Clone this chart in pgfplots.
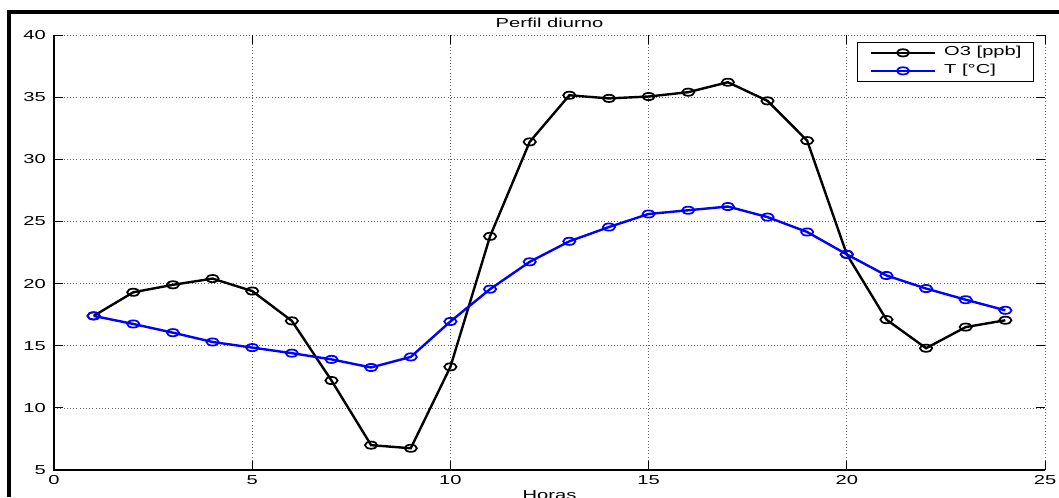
\documentclass[border=0pt]{standalone}
\usepackage{fontspec}
\setmainfont{Liberation Sans}[FakeStretch=1.55]
\usepackage{pgfplots}
\pgfplotsset{compat=1.18}
\newcommand{\chartfont}{\fontsize{9.75pt}{12pt}\selectfont}
\begin{document}
\begin{tikzpicture}
\useasboundingbox (0,0) rectangle (794.25pt,372.75pt);
\clip (0,0) rectangle (794.25pt,372.75pt);
\begin{axis}[
  at={(40.5pt,20.25pt)}, anchor=south west, scale only axis,
  width=743.25pt, height=326.25pt,
  xmin=0, xmax=25, ymin=5, ymax=40,
  xtick={0,5,...,25}, ytick={5,10,...,40},
  font=\chartfont,
  /pgf/number format/assume math mode=true,
  axis line style={draw=none},
  clip=false,
  tick align=inside, major tick length=7pt,
  tick style={black, line width=0.6pt},
  grid=major, grid style={dotted, gray!80!black, line width=0.5pt},
  xticklabel style={inner sep=0pt, yshift=-3.75pt},
  yticklabel style={inner sep=0pt, xshift=-6pt},
  title={Perfil diurno},
  every axis title/.style={at={(0.5,1)}, anchor=base, yshift=6pt, inner sep=0pt, font=\chartfont},
  xlabel={Horas},
  every axis x label/.style={at={(0.5,0)}, anchor=north, yshift=-15pt, inner sep=0pt, font=\chartfont},
  legend style={at={(1,1)}, anchor=north east, xshift=-8.25pt, yshift=-5.25pt,
    draw=black, line width=0.75pt, inner xsep=9pt, inner ysep=3pt,
    row sep=4pt, column sep=6pt,
    nodes={inner sep=0pt, text height=7pt, text depth=2.5pt, font=\chartfont}},
  legend cell align=left,
  legend image code/.code={\draw[mark repeat=2, mark phase=2] plot coordinates {(0pt,0pt) (24pt,0pt) (48pt,0pt)};},
]
\addplot[black, line width=1.8pt, mark=o, mark size=2.7pt,
  mark options={solid, xscale=1.7, line width=1.3pt}] coordinates {
  (1,17.4)(2,19.3)(3,19.9)(4,20.4)(5,19.4)(6,17.0)(7,12.2)(8,7.0)(9,6.75)(10,13.3)
  (11,23.8)(12,31.4)(13,35.15)(14,34.9)(15,35.05)(16,35.4)(17,36.2)(18,34.7)(19,31.5)
  (20,22.35)(21,17.1)(22,14.8)(23,16.5)(24,17.05)};
\addlegendentry{O3 [ppb]}
\addplot[blue, line width=1.8pt, mark=o, mark size=2.7pt,
  mark options={solid, xscale=1.7, line width=1.3pt}] coordinates {
  (1,17.4)(2,16.75)(3,16.05)(4,15.3)(5,14.85)(6,14.4)(7,13.9)(8,13.25)(9,14.1)(10,16.95)
  (11,19.55)(12,21.75)(13,23.4)(14,24.55)(15,25.6)(16,25.9)(17,26.2)(18,25.35)(19,24.15)
  (20,22.35)(21,20.65)(22,19.6)(23,18.7)(24,17.85)};
\addlegendentry{T [°C]}
\draw[black, line width=1.1pt] (rel axis cs:0,1) -- (rel axis cs:0,0) -- (rel axis cs:1,0);
\end{axis}
\draw[black, line width=2.6pt] (6.75pt,0) -- (6.75pt,363.75pt) -- (794.25pt,363.75pt);
\end{tikzpicture}
\end{document}
